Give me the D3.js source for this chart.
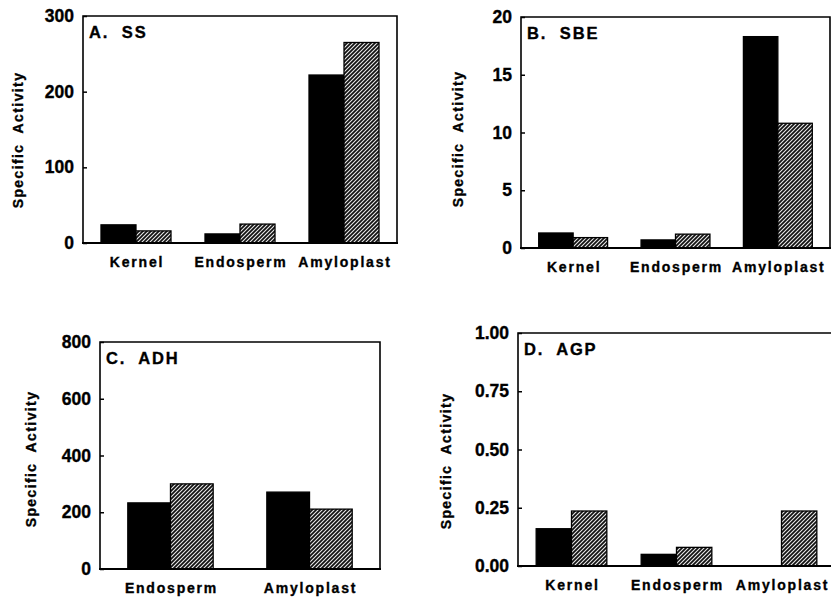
<!DOCTYPE html>
<html lang="en">
  <head>
    <meta charset="UTF-8" />
    <title>Specific Activity</title>
    <script src="https://cdn.jsdelivr.net/npm/d3@7/dist/d3.min.js"></script>
    <style>
      body { margin: 0; background: #fff; }
      text { font-family: "Liberation Sans", Arial, sans-serif; font-weight: bold; fill: #000; stroke: #000; stroke-width: 0.35; }
    </style>
  </head>
  <body>
    <svg width="831" height="597"></svg>
    <script>
      // data
      const cats3 = ["Kernel", "Endosperm", "Amyloplast"];
      const cats2 = ["Endosperm", "Amyloplast"];

      const ssSolid = [24, 12, 222];
      const ssHatch = [16, 25, 265];
      const sbeSolid = [1.3, 0.7, 18.3];
      const sbeHatch = [0.9, 1.2, 10.8];
      const adhSolid = [233, 271];
      const adhHatch = [300, 211];
      const agpSolid = [0.16, 0.05, 0];
      const agpHatch = [0.236, 0.08, 0.236];

      const ssTicks = [0, 100, 200, 300];
      const sbeTicks = [0, 5, 10, 15, 20];
      const adhTicks = [0, 200, 400, 600, 800];
      const agpTicks = [0, 0.25, 0.5, 0.75, 1];

      const svg = d3.select("svg");

      // hatch pattern
      const pat = svg.append("defs").append("pattern")
        .attr("id", "hatch")
        .attr("patternUnits", "userSpaceOnUse")
        .attr("width", 4).attr("height", 4);
      pat.append("rect").attr("width", 4).attr("height", 4).attr("fill", "#111");
      pat.append("path")
        .attr("d", "M-1,1 l2,-2 M0,4 l4,-4 M3,5 l2,-2")
        .attr("stroke", "#e8e8e8").attr("stroke-width", 1.1);

      const panels = [
        { title: "A.  SS", cats: cats3, solid: ssSolid, hatch: ssHatch, ticks: ssTicks, fmt: d3.format("d"),
          x0: 83, x1: 397, y0: 16, y1: 243, pi: 0.327, po: 0.173, labX: 19, labY: 140 },
        { title: "B.  SBE", cats: cats3, solid: sbeSolid, hatch: sbeHatch, ticks: sbeTicks, fmt: d3.format("d"),
          x0: 521, x1: 830, y0: 17, y1: 248, pi: 0.327, po: 0.173, labX: 459, labY: 139 },
        { title: "C.  ADH", cats: cats2, solid: adhSolid, hatch: adhHatch, ticks: adhTicks, fmt: d3.format("d"),
          x0: 100, x1: 380, y0: 342, y1: 569, pi: 0.386, po: 0.2, labX: 32, labY: 459 },
        { title: "D.  AGP", cats: cats3, solid: agpSolid, hatch: agpHatch, ticks: agpTicks, fmt: d3.format(".2f"),
          x0: 518, x1: 835, y0: 333, y1: 566, pi: 0.327, po: 0.173, labX: 447, labY: 461 }
      ];

      panels.forEach(p => {
        const g = svg.append("g");

        const x = d3.scaleBand().domain(p.cats).range([p.x0, p.x1])
          .paddingInner(p.pi).paddingOuter(p.po);
        const xs = d3.scaleBand().domain(["solid", "hatch"]).range([0, x.bandwidth()]);
        const y = d3.scaleLinear().domain([p.ticks[0], p.ticks[p.ticks.length - 1]]).range([p.y1, p.y0]);

        // bars
        const rows = p.cats.map((c, i) => ({ c, solid: p.solid[i], hatch: p.hatch[i] }));
        ["solid", "hatch"].forEach(k => {
          g.selectAll("rect." + k)
            .data(rows.filter(d => d[k] > 0))
            .enter().append("rect")
            .attr("class", k)
            .attr("x", d => x(d.c) + xs(k))
            .attr("y", d => y(d[k]))
            .attr("width", xs.bandwidth())
            .attr("height", d => y(0) - y(d[k]))
            .attr("fill", k === "solid" ? "#000" : "url(#hatch)")
            .attr("stroke", "#000")
            .attr("stroke-width", 1.3);
        });

        // frame
        g.append("path")
          .attr("d", `M${p.x0},${p.y1} L${p.x0},${p.y0} L${p.x1},${p.y0} L${p.x1},${p.y1}`)
          .attr("fill", "none").attr("stroke", "#000").attr("stroke-width", 1.6);
        g.append("line")
          .attr("x1", p.x0 - 1).attr("x2", p.x1 + 1)
          .attr("y1", p.y1).attr("y2", p.y1)
          .attr("stroke", "#000").attr("stroke-width", 2.2);

        // y axis
        const ax = g.append("g")
          .attr("transform", `translate(${p.x0},0)`)
          .call(d3.axisLeft(y).tickValues(p.ticks).tickFormat(p.fmt).tickSizeInner(-4).tickSizeOuter(0).tickPadding(9));
        ax.select(".domain").remove();
        ax.selectAll(".tick line").attr("stroke", "#000").attr("stroke-width", 1.5);
        ax.selectAll(".tick text").attr("font-size", 17.5).attr("font-family", null).attr("fill", null);

        // category labels
        g.selectAll("text.cat")
          .data(p.cats)
          .enter().append("text")
          .attr("class", "cat")
          .attr("x", d => x(d) + x.bandwidth() / 2 + 1)
          .attr("y", p.y1 + 24)
          .attr("text-anchor", "middle")
          .attr("font-size", 14)
          .attr("letter-spacing", 1.8)
          .text(d => d);

        // panel title
        g.append("text")
          .attr("x", p.x0 + 6)
          .attr("y", p.y0 + 22)
          .attr("font-size", 16.5)
          .attr("letter-spacing", 1.8)
          .style("white-space", "pre")
          .text(p.title);

        // y label
        g.append("text")
          .attr("transform", `translate(${p.labX},${p.labY}) rotate(-90)`)
          .attr("text-anchor", "middle")
          .attr("dominant-baseline", "middle")
          .attr("font-size", 14)
          .attr("letter-spacing", 1.4)
          .style("white-space", "pre")
          .text("Specific  Activity");
      });
    </script>
  </body>
</html>
